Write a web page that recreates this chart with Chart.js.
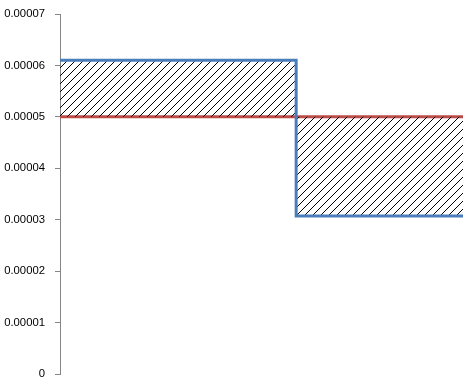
<!DOCTYPE html>
<html>
<head>
<meta charset="utf-8">
<script src="https://cdn.jsdelivr.net/npm/chart.js@4"></script>
<style>
html,body{margin:0;padding:0;background:#fff;}
#wrap{width:463px;height:384px;}
</style>
</head>
<body>
<div id="wrap"><canvas id="c" width="463" height="384"></canvas></div>
<script>
// Data
const xEdges = [0, 0.586, 1];            // category boundaries (x positions of steps)
const seriesValues = [0.000061, 0.0000307]; // blue step values
const referenceValue = 0.00005;          // red reference line
const yMin = 0, yMax = 0.00007, yStep = 0.00001;

// Build step points
const bluePts = [];
const redPts = [];
for (let i = 0; i < seriesValues.length; i++) {
  bluePts.push({x: xEdges[i], y: seriesValues[i]});
  bluePts.push({x: xEdges[i+1], y: seriesValues[i]});
  redPts.push({x: xEdges[i], y: referenceValue});
  redPts.push({x: xEdges[i+1], y: referenceValue});
}

// Hatch pattern
const pc = document.createElement('canvas');
const S = 8;
pc.width = S; pc.height = S;
const px = pc.getContext('2d');
px.fillStyle = '#000';
for (let i = 0; i < S; i++) { px.fillRect(i, S - 1 - i, 1, 1); }
const ctx0 = document.getElementById('c').getContext('2d');
const hatch = ctx0.createPattern(pc, 'repeat');

new Chart(document.getElementById('c'), {
  type: 'line',
  data: {
    datasets: [
      {
        data: bluePts,
        borderColor: '#4a7ebb',
        borderWidth: 3,
        pointRadius: 0,
        tension: 0,
        fill: '+1',
        backgroundColor: hatch,
        order: 1
      },
      {
        data: redPts,
        borderColor: '#be4b48',
        borderWidth: 3,
        pointRadius: 0,
        tension: 0,
        fill: false,
        order: 2
      }
    ]
  },
  options: {
    responsive: false,
    animation: false,
    devicePixelRatio: 1,
    layout: {padding: {top: 14, bottom: 10, left: 0, right: 0}},
    plugins: {legend: {display: false}, tooltip: {enabled: false}},
    scales: {
      x: {type: 'linear', min: xEdges[0], max: xEdges[xEdges.length-1], display: false},
      y: {
        min: yMin, max: yMax,
        afterFit: (s) => { s.width = 60; s.paddingTop = 0; s.paddingBottom = 0; },
        ticks: {
          stepSize: yStep,
          padding: 10,
          color: '#000',
          font: {family: 'Liberation Sans, Arial, sans-serif', size: 11.3},
          callback: (v) => v === 0 ? '0' : Number(v).toFixed(5)
        },
        grid: {drawOnChartArea: false, drawTicks: true, tickLength: 5, color: '#868686'},
        border: {display: true, color: '#868686', width: 1}
      }
    }
  }
});
</script>
</body>
</html>
